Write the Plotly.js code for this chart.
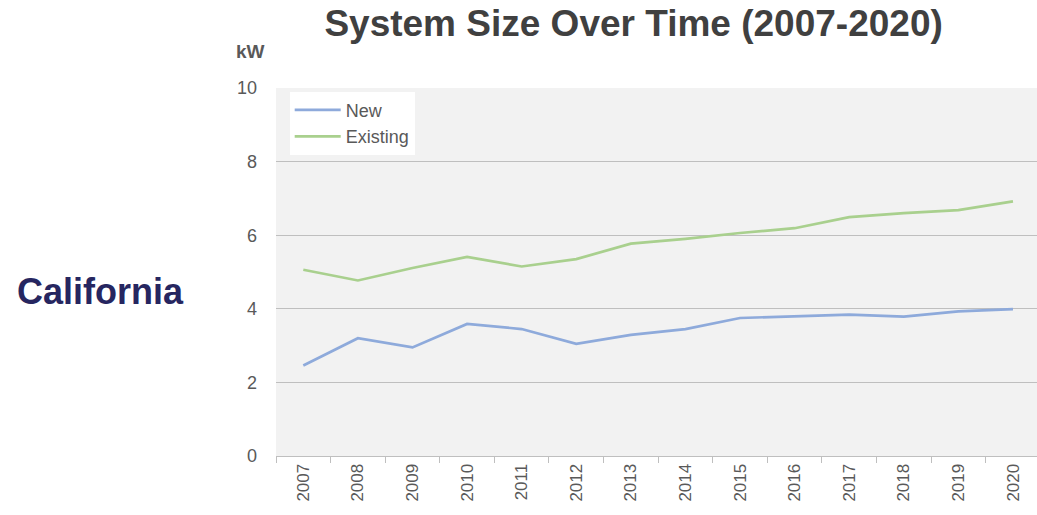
<!DOCTYPE html>
<html>
<head>
<meta charset="utf-8">
<script src="https://cdn.plot.ly/plotly-3.0.1.min.js"></script>
<style>html,body{margin:0;padding:0;background:#fff;}#chart{width:1037px;height:515px;}</style>
</head>
<body>
<div id="chart"></div>
<script>
const years = ["2007","2008","2009","2010","2011","2012","2013","2014","2015","2016","2017","2018","2019","2020"];
const newSystems = [2.46, 3.20, 2.95, 3.59, 3.45, 3.05, 3.29, 3.45, 3.75, 3.79, 3.84, 3.79, 3.93, 3.99];
const existingSystems = [5.06, 4.77, 5.11, 5.41, 5.15, 5.35, 5.77, 5.90, 6.06, 6.19, 6.49, 6.60, 6.68, 6.92];
const yTicks = [0, 2, 4, 6, 8, 10];

const traces = [
  {x: years, y: newSystems, name: "New", type: "scatter", mode: "lines",
   line: {color: "#8eaadb", width: 2.7}},
  {x: years, y: existingSystems, name: "Existing", type: "scatter", mode: "lines",
   line: {color: "#a9d08e", width: 2.7}}
];

const layout = {
  width: 1037, height: 515,
  margin: {l: 276, r: 0, t: 88, b: 59, pad: 0},
  paper_bgcolor: "#ffffff",
  plot_bgcolor: "#f2f2f2",
  font: {family: "Liberation Sans, Arial, sans-serif", color: "#595959"},
  title: {text: "<b>System Size Over Time (2007-2020)</b>",
    font: {family: "Liberation Sans, Arial, sans-serif", size: 37, color: "#404040"},
    x: 0.611, xref: "container", xanchor: "center", y: 0.955, yref: "container", yanchor: "middle"},
  xaxis: {type: "category", range: [-0.5, 13.44], tickangle: -90, showgrid: false,
    showline: true, linecolor: "#bfbfbf", linewidth: 1,
    ticks: "outside", tickson: "boundaries", ticklen: 6, tickcolor: "#bfbfbf",
    tickfont: {size: 17, color: "#595959"}, fixedrange: true},
  yaxis: {range: [0, 10], tickvals: yTicks, showgrid: true, gridcolor: "#bfbfbf", gridwidth: 1.3,
    zeroline: false, showline: false, ticks: "", ticklabelstandoff: 18,
    tickfont: {size: 18, color: "#595959"}, fixedrange: true},
  legend: {x: 0.018, y: 0.99, xanchor: "left", yanchor: "top", bgcolor: "#ffffff",
    font: {size: 18, color: "#595959"}, itemwidth: 46, tracegroupgap: 0},
  showlegend: true,
  annotations: [
    {text: "<b>kW</b>", xref: "paper", yref: "paper", x: -0.034, y: 1.1, xanchor: "center", yanchor: "middle",
     showarrow: false, font: {size: 19, color: "#595959"}},
    {text: "<b>California</b>", xref: "paper", yref: "paper", x: -0.231, y: 0.446, xanchor: "center", yanchor: "middle",
     showarrow: false, font: {size: 36, color: "#262660", family: "Liberation Sans, Arial, sans-serif"}}
  ]
};

Plotly.newPlot("chart", traces, layout, {displayModeBar: false, staticPlot: true});
</script>
</body>
</html>
